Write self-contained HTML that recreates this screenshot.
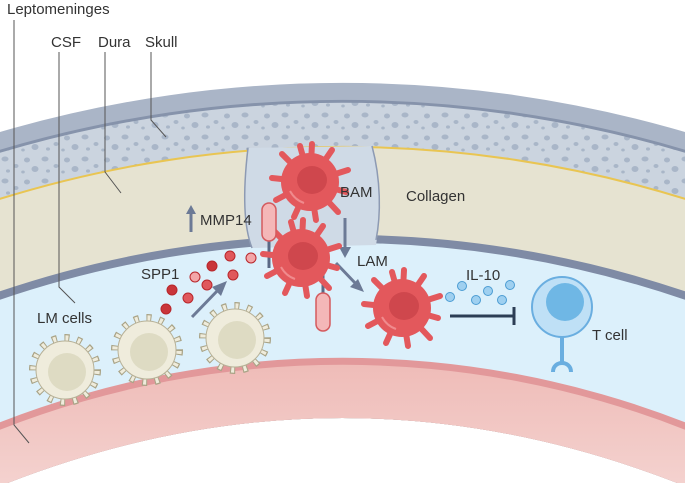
<!DOCTYPE html>
<html><head><meta charset="utf-8"><style>
html,body{margin:0;padding:0;background:#fff;overflow:hidden;width:685px;height:483px}
svg{display:block}
text{font-family:"Liberation Sans",sans-serif;font-size:15px;fill:#333}
</style></head><body>
<svg width="685" height="483" viewBox="0 0 685 483" xmlns="http://www.w3.org/2000/svg">
<defs>
<linearGradient id="pink" x1="0" y1="0" x2="0" y2="1">
<stop offset="0" stop-color="#efbcb8"/><stop offset="1" stop-color="#f4d2cf"/>
</linearGradient>
<pattern id="dots" width="40" height="22" patternUnits="userSpaceOnUse">
<rect width="40" height="22" fill="#cbd4df"/>
<ellipse cx="5" cy="5" rx="3.5" ry="2.5" fill="#a9b6c8"/>
<ellipse cx="16" cy="12" rx="2.5" ry="2" fill="#a9b6c8"/>
<ellipse cx="27" cy="6" rx="3" ry="2.5" fill="#a9b6c8"/>
<ellipse cx="35" cy="15" rx="3.5" ry="3" fill="#a9b6c8"/>
<ellipse cx="8" cy="17" rx="2" ry="1.6" fill="#a9b6c8"/>
<ellipse cx="23" cy="18" rx="1.8" ry="1.5" fill="#a9b6c8"/>
</pattern>
<g id="mac">
<g stroke="#e3585c" stroke-width="6" stroke-linecap="round">
<line x1="0" y1="0" x2="2" y2="-38"/>
<line x1="0" y1="0" x2="22" y2="-32"/>
<line x1="0" y1="0" x2="38" y2="-12"/>
<line x1="0" y1="0" x2="36" y2="10"/>
<line x1="0" y1="0" x2="28" y2="30"/>
<line x1="0" y1="0" x2="6" y2="38"/>
<line x1="0" y1="0" x2="-16" y2="35"/>
<line x1="0" y1="0" x2="-34" y2="18"/>
<line x1="0" y1="0" x2="-38" y2="-4"/>
<line x1="0" y1="0" x2="-28" y2="-28"/>
<line x1="0" y1="0" x2="-10" y2="-36"/>
</g>
<circle r="29" fill="#e3585c"/>
<ellipse cx="2" cy="-2" rx="15" ry="14" fill="#cf474d"/>
<path d="M-20,9 Q-15,18 -6,21" stroke="#f08a8d" stroke-width="2" fill="none"/>
</g>
<g id="lm">
<circle r="32" fill="none" stroke="#a9a386" stroke-width="8" stroke-dasharray="5 7.5"/>
<circle r="32" fill="none" stroke="#efecdc" stroke-width="5.5" stroke-dasharray="3 9.5" stroke-dashoffset="-1"/>
<circle r="29" fill="#efecdc" stroke="#b7b197" stroke-width="1"/>
<circle r="19" cx="2" cy="2" fill="#dedbc3"/>
</g>
</defs>

<path d="M0,132 A1218,1218 0 0 1 685,132 L685,486 Q342,350 0,486 Z" fill="#aab5c7"/>
<path d="M0,149.7 A1201,1201 0 0 1 685,149.7 L685,486 Q342,350 0,486 Z" fill="#8693ab"/>
<path d="M0,152.8 A1198,1198 0 0 1 685,152.8 L685,486 Q342,350 0,486 Z" fill="url(#dots)"/>
<path d="M0,197.8 A1155,1155 0 0 1 685,197.8 L685,486 Q342,350 0,486 Z" fill="#e9c552"/>
<path d="M0,199.9 A1153,1153 0 0 1 685,199.9 L685,486 Q342,350 0,486 Z" fill="#e6e3d1"/>
<path d="M0,291.3 A1066,1066 0 0 1 685,291.3 L685,486 Q342,350 0,486 Z" fill="#7f8ba5"/>
<path d="M0,299.8 A1058,1058 0 0 1 685,299.8 L685,486 Q342,350 0,486 Z" fill="#dcf0fb"/>
<path d="M248,148 C243,190 243,225 252,248 L376,245 C381,215 381,180 372,146 Z" fill="#cfdae6"/>
<path d="M248,148 C243,190 243,225 252,248" stroke="#8d9ab3" stroke-width="1.5" fill="none"/>
<path d="M372,146 C381,180 381,215 376,240" stroke="#8d9ab3" stroke-width="1.5" fill="none"/>
<path d="M0,422.2 A943,943 0 0 1 685,422.2 L685,486 Q342,350 0,486 Z" fill="#e2989a"/>
<path d="M0,429.7 A936,936 0 0 1 685,429.7 L685,486 Q342,350 0,486 Z" fill="url(#pink)"/>

<g stroke="#555" stroke-width="1" fill="none">
<polyline points="14,20 14,425 29,443"/>
<polyline points="59,52 59,287 75,303"/>
<polyline points="105,52 105,172 121,193"/>
<polyline points="151,52 151,120 166,137"/>
</g>

<use href="#lm" x="65" y="370"/>
<use href="#lm" x="147" y="350"/>
<use href="#lm" x="235" y="338"/>

<g stroke="#b8262b" stroke-width="1">
<circle cx="230" cy="256" r="5" fill="#e0585c"/>
<circle cx="251" cy="258" r="5" fill="#f3a6a8"/>
<circle cx="212" cy="266" r="5" fill="#c9353a"/>
<circle cx="195" cy="277" r="5" fill="#f3a6a8"/>
<circle cx="233" cy="275" r="5" fill="#e0585c"/>
<circle cx="207" cy="285" r="5" fill="#e0585c"/>
<circle cx="172" cy="290" r="5" fill="#c9353a"/>
<circle cx="188" cy="298" r="5" fill="#e0585c"/>
<circle cx="166" cy="309" r="5" fill="#c9353a"/>
</g>

<g stroke="#6c7a96" stroke-width="3" fill="#6c7a96">
<line x1="192" y1="317" x2="220" y2="288"/>
<line x1="345" y1="218" x2="345" y2="250"/>
<line x1="336" y1="263" x2="357" y2="285"/>
<line x1="191" y1="232" x2="191" y2="212"/>
</g>
<g fill="#6c7a96">
<polygon points="227,281 212,287 221,296"/>
<polygon points="345,258 339,247 351,247"/>
<polygon points="364,292 350,287 358,279"/>
<polygon points="191,205 186,214 196,214"/>
</g>

<line x1="269" y1="235" x2="269" y2="268" stroke="#5a6985" stroke-width="3"/>
<line x1="323" y1="268" x2="323" y2="298" stroke="#5a6985" stroke-width="3"/>

<use href="#mac" x="310" y="182"/>
<use href="#mac" x="301" y="258"/>
<use href="#mac" x="402" y="308"/>

<rect x="262" y="203" width="14" height="38" rx="7" fill="#f4b7b8" stroke="#d45a5e" stroke-width="1.5"/>
<rect x="316" y="293" width="14" height="38" rx="7" fill="#f4b7b8" stroke="#d45a5e" stroke-width="1.5"/>

<g fill="#9fd0f0" stroke="#4b9cd3" stroke-width="1">
<circle cx="462" cy="286" r="4.5"/>
<circle cx="450" cy="297" r="4.5"/>
<circle cx="476" cy="300" r="4.5"/>
<circle cx="488" cy="291" r="4.5"/>
<circle cx="502" cy="300" r="4.5"/>
<circle cx="510" cy="285" r="4.5"/>
</g>
<line x1="450" y1="316" x2="514" y2="316" stroke="#2c3e55" stroke-width="3"/>
<line x1="514" y1="307" x2="514" y2="325" stroke="#2c3e55" stroke-width="3"/>

<line x1="562" y1="336" x2="562" y2="362" stroke="#6aaee0" stroke-width="4"/>
<path d="M553,372 C553,360 571,360 571,372" stroke="#6aaee0" stroke-width="4" fill="none"/>
<circle cx="562" cy="307" r="30" fill="#bfe0f6" stroke="#6aaee0" stroke-width="2"/>
<circle cx="565" cy="302" r="19" fill="#6fb7e5"/>

<text x="7" y="14">Leptomeninges</text>
<text x="51" y="47">CSF</text>
<text x="98" y="47">Dura</text>
<text x="145" y="47">Skull</text>
<text x="406" y="201">Collagen</text>
<text x="340" y="197">BAM</text>
<text x="200" y="225">MMP14</text>
<text x="357" y="266">LAM</text>
<text x="141" y="279">SPP1</text>
<text x="466" y="280">IL-10</text>
<text x="37" y="323">LM cells</text>
<text x="592" y="340">T cell</text>
</svg>
</body></html>
